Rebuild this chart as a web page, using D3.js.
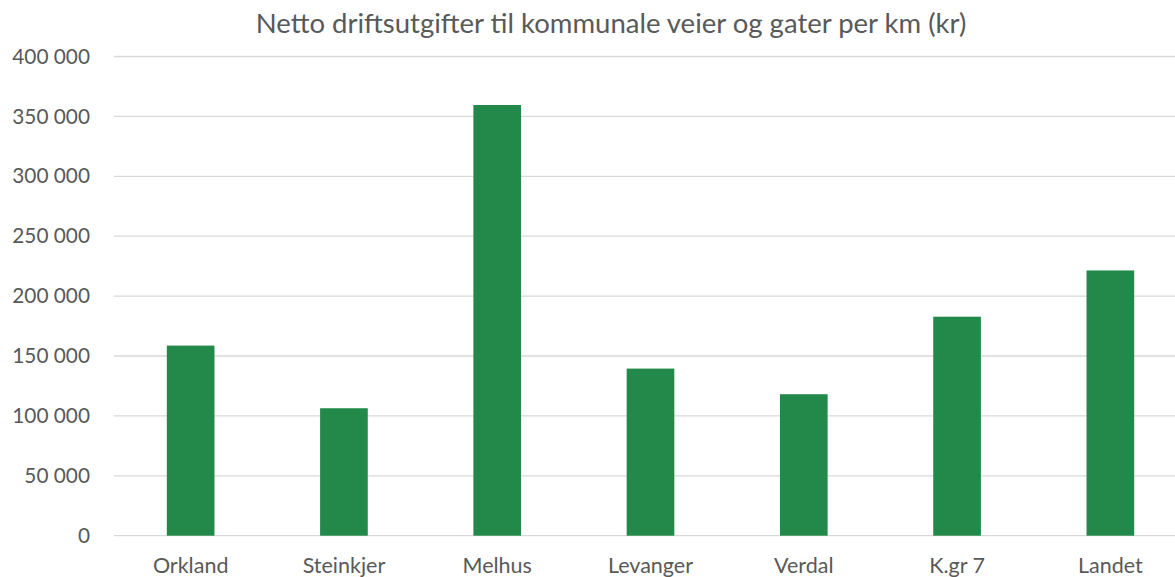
<!DOCTYPE html>
<html>
<head>
<meta charset="utf-8">
<script src="https://cdn.jsdelivr.net/npm/d3@7"></script>
<style>
  html, body { margin: 0; padding: 0; background: #fff; }
  svg { display: block; font-family: Lato, "Open Sans", sans-serif; }
</style>
</head>
<body>
<svg id="chart" width="1175" height="577"></svg>
<script>
// Net operating expenses for municipal roads per km (NOK)
const categories = ["Orkland", "Steinkjer", "Melhus", "Levanger", "Verdal", "K.gr 7", "Landet"];
const values = [158700, 106400, 359500, 139500, 118100, 182800, 221400];
const yTicks = [0, 50000, 100000, 150000, 200000, 250000, 300000, 350000, 400000];
const title = "Netto driftsutgifter til kommunale veier og gater per km (kr)";

const svg = d3.select("#chart");
const margin = { left: 114, right: 1187, top: 56.5, bottom: 535.7 };

const x = d3.scaleBand()
  .domain(categories)
  .range([margin.left, margin.right])
  .paddingInner(0.689)
  .paddingOuter(0.3445);

const y = d3.scaleLinear()
  .domain([0, 400000])
  .range([margin.bottom, margin.top]);

const fmt = v => d3.format(",")(v).replace(/,/g, " ");

// horizontal gridlines
svg.append("g")
  .selectAll("line")
  .data(yTicks)
  .join("line")
  .attr("x1", margin.left)
  .attr("x2", margin.right)
  .attr("y1", d => y(d))
  .attr("y2", d => y(d))
  .attr("stroke", "#d9d9d9")
  .attr("stroke-width", 1.3);

// y axis labels
const yAxis = d3.axisLeft(y).tickValues(yTicks).tickFormat(fmt).tickSize(0).tickPadding(0);
svg.append("g")
  .attr("transform", `translate(90,0)`)
  .call(yAxis)
  .call(g => g.select(".domain").remove())
  .call(g => g.selectAll("text")
    .attr("fill", "#595959")
    .attr("font-size", 20.8)
    .attr("font-family", "Lato, 'Open Sans', sans-serif"));

// bars
svg.append("g")
  .selectAll("rect")
  .data(values)
  .join("rect")
  .attr("x", (d, i) => x(categories[i]))
  .attr("width", x.bandwidth())
  .attr("y", d => y(d))
  .attr("height", d => y(0) - y(d))
  .attr("fill", "#23894a");

// category labels
const xAxis = d3.axisBottom(x).tickSize(0).tickPadding(0);
svg.append("g")
  .attr("transform", `translate(0,552.5)`)
  .call(xAxis)
  .call(g => g.select(".domain").remove())
  .call(g => g.selectAll("text")
    .attr("fill", "#595959")
    .attr("font-size", 21.5)
    .attr("dy", "0.95em")
    .attr("font-family", "Lato, 'Open Sans', sans-serif"));

// title
svg.append("text")
  .attr("x", 611)
  .attr("y", 32.5)
  .attr("text-anchor", "middle")
  .attr("fill", "#595959")
  .attr("font-size", 27.5)
  .text(title);
</script>
</body>
</html>
